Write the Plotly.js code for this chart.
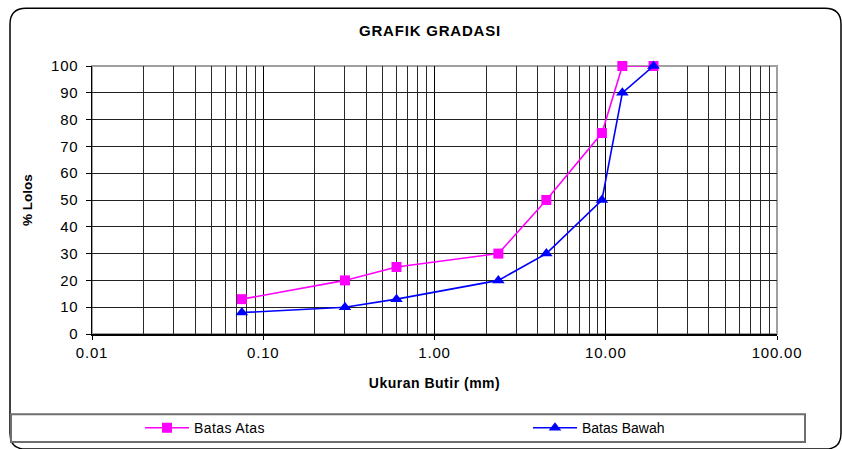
<!DOCTYPE html>
<html>
<head>
<meta charset="utf-8">
<script src="https://cdn.plot.ly/plotly-3.0.1.min.js"></script>
<style>
html,body{margin:0;padding:0;background:#fff;}
#chart{width:842px;height:449px;}
#chart .gtitle{letter-spacing:0.8px;}
#chart .xtick text, #chart .ytick text{letter-spacing:0.8px;}
#chart .g-xtitle text{letter-spacing:0.5px;}
#chart .legendtext{letter-spacing:0.4px;}
</style>
</head>
<body>
<div id="chart"></div>
<script>
// ---- data ----
const sieveSizes = [0.075, 0.3, 0.6, 2.36, 4.5, 9.5, 12.5, 19];
const batasAtas = [13, 20, 25, 30, 50, 75, 100, 100];
const batasBawah = [8, 10, 13, 20, 30, 50, 90, 100];
const seriesNames = ["Batas Atas", "Batas Bawah"];
const chartTitle = "GRAFIK GRADASI";
const xTitle = "Ukuran Butir (mm)";
const yTitle = "% Lolos";

// ---- layout geometry (pixels) ----
const W = 842, H = 449;
const M = {l: 92, r: 65, t: 65.5, b: 114.5, autoexpand: false};
const PW = W - M.l - M.r, PH = H - M.t - M.b;
const px = v => (v - M.l) / PW;
const py = v => (H - M.b - v) / PH;

function roundRect(x0, y0, x1, y1, r) {
  const rx = r / PW, ry = r / PH;
  const X0 = px(x0), X1 = px(x1), Y0 = py(y0), Y1 = py(y1);
  return `M${X0 + rx},${Y0} L${X1 - rx},${Y0} Q${X1},${Y0} ${X1},${Y0 - ry} ` +
         `L${X1},${Y1 + ry} Q${X1},${Y1} ${X1 - rx},${Y1} L${X0 + rx},${Y1} ` +
         `Q${X0},${Y1} ${X0},${Y1 + ry} L${X0},${Y0 - ry} Q${X0},${Y0} ${X0 + rx},${Y0} Z`;
}

const FONT = "Liberation Sans, Arial, sans-serif";

const traces = [
  {
    x: sieveSizes, y: batasAtas, name: seriesNames[0],
    type: "scatter", mode: "lines+markers", legend: "legend",
    line: {color: "#FF00FF", width: 1.6},
    marker: {symbol: "square", size: 10, color: "#FF00FF"},
    cliponaxis: false
  },
  {
    x: sieveSizes, y: batasBawah, name: seriesNames[1],
    type: "scatter", mode: "lines+markers", legend: "legend2",
    line: {color: "#0000FF", width: 1.6},
    marker: {symbol: "triangle-up", size: 11, color: "#0000FF"},
    cliponaxis: false
  }
];

const legendBase = {
  orientation: "h", xref: "paper", yref: "paper",
  xanchor: "left", yanchor: "middle", y: py(429),
  bgcolor: "rgba(0,0,0,0)", borderwidth: 0,
  font: {size: 14, family: FONT}, itemwidth: 44
};

const layout = {
  width: W, height: H,
  margin: M,
  paper_bgcolor: "#fff", plot_bgcolor: "#fff",
  font: {family: FONT, color: "#000", size: 15},
  title: {text: "<b>" + chartTitle + "</b>", font: {size: 15, family: FONT},
          xref: "container", x: 430 / W, xanchor: "center",
          yref: "container", y: 1 - 31 / H, yanchor: "middle"},
  xaxis: {
    type: "log", range: [-2, 2], automargin: false,
    tickmode: "linear", tick0: 0, dtick: 1, tickformat: ".2f",
    ticks: "outside", ticklen: 4, tickcolor: "#000", tickwidth: 1,
    showline: true, linecolor: "#000", linewidth: 1.5,
    showgrid: true, gridcolor: "#000", gridwidth: 1,
    zeroline: false,
    tickfont: {size: 15},
    minor: {dtick: "D1", showgrid: true, gridcolor: "#2a2a2a", gridwidth: 1, ticks: ""},
    title: {text: "<b>" + xTitle + "</b>", font: {size: 14}, standoff: 18}
  },
  yaxis: {
    range: [0, 100], dtick: 10, tick0: 0, automargin: false,
    ticks: "outside", ticklen: 5, tickcolor: "#000", tickwidth: 1,
    showline: true, linecolor: "#000", linewidth: 1.5,
    showgrid: true, gridcolor: "#222", gridwidth: 1,
    zeroline: false,
    tickfont: {size: 15},
    ticklabelstandoff: 4,
    title: {text: "<b>" + yTitle + "</b>", font: {size: 13.5}, standoff: 17}
  },
  showlegend: true,
  legend: Object.assign({}, legendBase, {x: px(140)}),
  legend2: Object.assign({}, legendBase, {x: px(528)}),
  shapes: [
    {type: "path", xref: "paper", yref: "paper", path: roundRect(10, 7.5, 841, 450, 16),
     line: {color: "#000", width: 1.5}, fillcolor: "rgba(0,0,0,0)", layer: "below"},
    {type: "rect", xref: "paper", yref: "paper",
     x0: px(11), x1: px(805), y0: py(415), y1: py(443),
     line: {color: "#6e6e6e", width: 2}, fillcolor: "rgba(0,0,0,0)", layer: "below"},
    {type: "rect", xref: "paper", yref: "paper", x0: 0, x1: 1, y0: 0, y1: 1,
     line: {color: "#a0a0a0", width: 2}, fillcolor: "rgba(0,0,0,0)", layer: "between"}
  ]
};

Plotly.newPlot("chart", traces, layout, {staticPlot: true, displayModeBar: false});
</script>
</body>
</html>
